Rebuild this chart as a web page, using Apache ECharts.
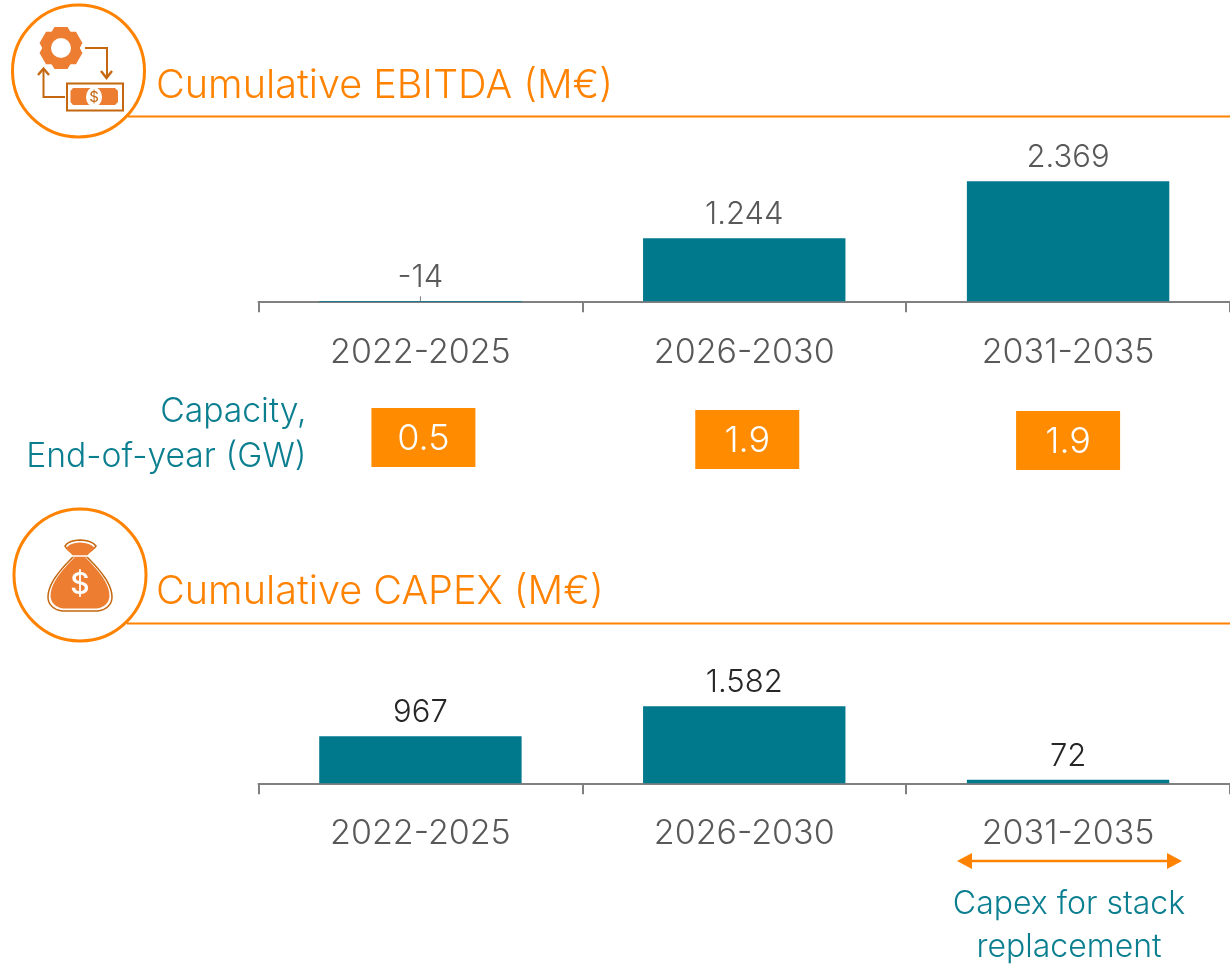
<!DOCTYPE html>
<html><head><meta charset="utf-8">
<style>html,body{margin:0;padding:0;background:#fff}#c{width:1230px;height:964px}</style>
<script src="https://cdn.jsdelivr.net/npm/echarts@6/dist/echarts.min.js"></script>
</head><body><div id="c"></div>
<script>
const periods = ['2022-2025', '2026-2030', '2031-2035'];
const ebitda = [-14, 1244, 2369];
const capex = [967, 1582, 72];
const capacity = [0.5, 1.9, 1.9];
const titleEbitda = 'Cumulative EBITDA (M€)';
const titleCapex = 'Cumulative CAPEX (M€)';
const capacityLabel = 'Capacity,\nEnd-of-year (GW)';
const capexNote = 'Capex for stack\nreplacement';

const FONT = 'Inter';
const ORANGE = '#FF8200', TEAL = '#00798C', TEALT = '#0B7F90', GREY = '#595959';
const ICON = '#ED7D31', ICOND = '#C4670F';
const dotNum = v => String(v).replace(/\B(?=(\d{3})+$)/, '.');

function gearPoints(cx, cy, R, r) {
  const pts = [];
  for (let i = 0; i < 6; i++) {
    const a = (i * 60 - 90) * Math.PI / 180;
    [[a - 0.30, R], [a + 0.30, R], [a + 0.5, r], [a + 0.55, r]].forEach(q => {
      pts.push([cx + q[1] * Math.cos(q[0]), cy + q[1] * Math.sin(q[0])]);
    });
  }
  return pts;
}
function bezierOutline(start, segs) {
  const pts = [start];
  let p = start;
  segs.forEach(s => {
    for (let k = 1; k <= 12; k++) {
      const t = k / 12, u = 1 - t;
      pts.push([
        u*u*u*p[0] + 3*u*u*t*s[0] + 3*u*t*t*s[2] + t*t*t*s[4],
        u*u*u*p[1] + 3*u*u*t*s[1] + 3*u*t*t*s[3] + t*t*t*s[5]
      ]);
    }
    p = [s[4], s[5]];
  });
  return pts;
}
const bagPoints = bezierOutline([65, 546], [
  [70,538, 90,538, 96,546], [93,550, 88,552, 86,556], [96,566, 112,582, 112,597],
  [112,606, 104,611, 96,611], [85,611, 75,611, 64,611], [56,611, 48,606, 48,597],
  [48,582, 64,566, 74,556], [72,552, 67,550, 65,546]
]);
const innerBag = bagPoints.map(p => [80 + (p[0] - 80) * 0.92, 577 + (p[1] - 577) * 0.93]);

function poly(points, color, w) {
  return { type: 'polyline', shape: { points }, style: { stroke: color, lineWidth: w, fill: null } };
}
const graphics = [
  { type: 'line', shape: { x1: 128, y1: 116.5, x2: 1230, y2: 116.5 }, style: { stroke: ORANGE, lineWidth: 2 } },
  { type: 'line', shape: { x1: 127, y1: 623.5, x2: 1230, y2: 623.5 }, style: { stroke: ORANGE, lineWidth: 2 } },
  { type: 'circle', shape: { cx: 78.5, cy: 71, r: 66 }, style: { stroke: ORANGE, lineWidth: 3, fill: '#fff' } },
  { type: 'circle', shape: { cx: 80, cy: 575, r: 66 }, style: { stroke: ORANGE, lineWidth: 3, fill: '#fff' } },
  { type: 'polygon', shape: { points: gearPoints(61, 48, 22, 19) }, style: { fill: ICON } },
  { type: 'circle', shape: { cx: 61, cy: 48, r: 10 }, style: { fill: '#fff' } },
  poly([[85, 48], [107, 48], [107, 76]], ICOND, 2),
  poly([[101, 71], [106.5, 78], [112, 71]], ICOND, 2.4),
  poly([[65, 97], [43.5, 97], [43.5, 70]], ICOND, 2),
  poly([[38, 75], [43.5, 68.5], [49, 75]], ICOND, 2.4),
  { type: 'rect', shape: { x: 67, y: 83.5, width: 56, height: 27 }, style: { stroke: ICOND, lineWidth: 2, fill: '#fff' } },
  { type: 'polygon', shape: { points: [[73, 88], [115, 88], [118, 91], [118, 102], [115, 105], [73, 105], [70.5, 102], [70.5, 91]] }, style: { fill: ICON } },
  { type: 'circle', x: 94, y: 97, scaleY: 1.25, shape: { cx: 0, cy: 0, r: 8 }, style: { fill: '#fff' } },
  { type: 'text', style: { x: 94, y: 97.5, text: '$', font: '400 15px ' + FONT, fill: ICOND, align: 'center', verticalAlign: 'middle' } },
  { type: 'polygon', shape: { points: bagPoints }, style: { fill: '#fff', stroke: ICOND, lineWidth: 1.5 } },
  { type: 'polygon', shape: { points: innerBag }, style: { fill: ICON } },
  { type: 'line', shape: { x1: 72, y1: 556, x2: 88, y2: 556 }, style: { stroke: '#fff', lineWidth: 1.5 } },
  { type: 'text', style: { x: 80, y: 585, text: '$', font: '500 30px ' + FONT, fill: '#fff', align: 'center', verticalAlign: 'middle' } },
  { type: 'text', style: { x: 306.5, y: 434, text: capacityLabel, font: '300 33.7px ' + FONT, lineHeight: 45, fill: TEALT, align: 'right', verticalAlign: 'middle' } },
  { type: 'line', shape: { x1: 965, y1: 861, x2: 1175, y2: 861 }, style: { stroke: ORANGE, lineWidth: 2.5 } },
  { type: 'polygon', shape: { points: [[957, 861], [972, 853], [972, 869]] }, style: { fill: ORANGE } },
  { type: 'polygon', shape: { points: [[1182, 861], [1167, 853], [1167, 869]] }, style: { fill: ORANGE } },
  { type: 'text', style: { x: 1069, y: 926, text: capexNote, font: '300 32px ' + FONT, lineHeight: 43, fill: TEALT, align: 'center', verticalAlign: 'middle' } }
];

const catAxis = (gridIndex) => ({
  type: 'category', gridIndex, data: periods, boundaryGap: true,
  axisLine: { show: true, onZero: true, lineStyle: { color: '#808080', width: 2 } },
  axisTick: { show: true, alignWithLabel: false, length: 11, lineStyle: { color: '#808080', width: 2 } },
  axisLabel: { show: true, margin: 24, fontFamily: FONT, fontWeight: 300, fontSize: 34, color: GREY, interval: 0, hideOverlap: false }
});
const barSeries = (i, data, color) => ({
  type: 'bar', xAxisIndex: i, yAxisIndex: i, data, barWidth: '62.5%', clip: false,
  itemStyle: { color: TEAL },
  label: { show: true, position: 'top', distance: 8, fontFamily: FONT, fontWeight: 300, fontSize: 31, color,
    formatter: p => dotNum(p.value) }
});

const option = {
  animation: false,
  backgroundColor: '#fff',
  title: [
    { text: titleEbitda, left: 151, top: 61, textStyle: { fontFamily: FONT, fontWeight: 300, fontSize: 39.6, color: ORANGE } },
    { text: titleCapex, left: 151, top: 567, textStyle: { fontFamily: FONT, fontWeight: 300, fontSize: 39.6, color: ORANGE } }
  ],
  grid: [
    { left: 258.5, top: 159.5, width: 973, height: 152 },
    { left: 258.5, top: 639, width: 973, height: 154 },
    { left: 258.5, top: 380, width: 973, height: 120 }
  ],
  xAxis: [catAxis(0), catAxis(1),
    { type: 'category', gridIndex: 2, data: periods, show: false }],
  yAxis: [
    { type: 'value', gridIndex: 0, min: -200, max: 2800, show: false },
    { type: 'value', gridIndex: 1, min: -200, max: 2960, show: false },
    { type: 'value', gridIndex: 2, min: 0, max: 1, show: false }
  ],
  series: [
    barSeries(0, ebitda, GREY),
    barSeries(1, capex, '#262626'),
    { type: 'scatter', xAxisIndex: 0, yAxisIndex: 0, data: [[0, 0]], symbol: 'rect', symbolSize: [1, 5], symbolOffset: [0, -2.5], itemStyle: { color: '#808080', opacity: 1 }, silent: true },
    { type: 'scatter', xAxisIndex: 2, yAxisIndex: 2, symbol: 'rect', symbolSize: [104, 59],
      data: capacity.map((v, i) => ({ value: [i, 0.5], capacityValue: v, symbolOffset: [[3, -2.5], [3, -0.5], [0, 0.5]][i] })),
      itemStyle: { color: '#FF8C00', opacity: 1 },
      label: { show: true, position: 'inside', offset: [0, 2], fontFamily: FONT, fontWeight: 300, fontSize: 36, color: '#fff',
        formatter: p => p.data.capacityValue.toFixed(1) } }
  ],
  graphic: { elements: graphics.map(g => Object.assign({ silent: true }, g)) }
};
const chart = echarts.init(document.getElementById('c'), null, { renderer: 'canvas' });
chart.setOption(option);
</script></body></html>
